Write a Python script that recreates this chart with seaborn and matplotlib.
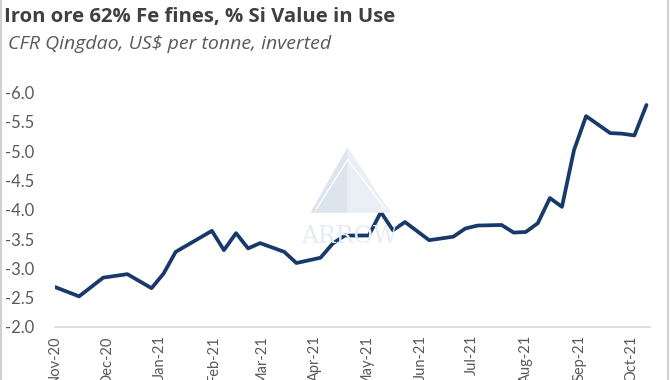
import numpy as np
import pandas as pd
import matplotlib.pyplot as plt
import matplotlib.dates as mdates
from matplotlib.patches import Polygon
from matplotlib.lines import Line2D
import seaborn as sns

# weekly readings
dates = ['2020-11-01', '2020-11-15', '2020-11-29', '2020-12-13', '2020-12-27',
         '2021-01-03', '2021-01-10', '2021-01-31', '2021-02-07', '2021-02-14',
         '2021-02-21', '2021-02-28', '2021-03-14', '2021-03-21', '2021-04-04',
         '2021-04-11', '2021-04-18', '2021-05-02', '2021-05-09', '2021-05-16',
         '2021-05-23', '2021-06-06', '2021-06-20', '2021-06-27', '2021-07-04',
         '2021-07-18', '2021-07-25', '2021-08-01', '2021-08-08', '2021-08-15',
         '2021-08-22', '2021-08-29', '2021-09-05', '2021-09-19', '2021-09-26',
         '2021-10-03', '2021-10-10']
values = [-2.68, -2.52, -2.84, -2.90, -2.66,
          -2.91, -3.28, -3.64, -3.31, -3.60,
          -3.34, -3.43, -3.28, -3.09, -3.18,
          -3.42, -3.56, -3.56, -3.96, -3.65,
          -3.79, -3.48, -3.54, -3.68, -3.73,
          -3.74, -3.61, -3.62, -3.77, -4.20,
          -4.05, -5.02, -5.60, -5.31, -5.30,
          -5.27, -5.79]

df = pd.DataFrame({'date': pd.to_datetime(dates), 'value': values})

sns.set_style('white')
plt.rcParams['font.family'] = ['Lato', 'DejaVu Sans']

fig = plt.figure(figsize=(6.7, 3.8), dpi=100)
ax = fig.add_axes([0.082, 0.140, 0.888, 0.616])

# faint watermark (sail + name) behind the line
left_sail = Polygon([(0.463, 0.44), (0.519, 0.613), (0.519, 0.44)], closed=True,
                    transform=fig.transFigure, facecolor='#dce4ee', edgecolor='none', zorder=0)
right_sail = Polygon([(0.519, 0.44), (0.519, 0.613), (0.583, 0.44)], closed=True,
                     transform=fig.transFigure, facecolor='#eaeef5', edgecolor='none', zorder=0)
fig.patches.extend([left_sail, right_sail])
fig.add_artist(Line2D([0.472, 0.519, 0.575], [0.45, 0.58, 0.45], color='white',
                      linewidth=1.0, zorder=0.5))
fig.text(0.522, 0.378, 'ARROW', ha='center', va='center', fontsize=17,
         family='DejaVu Serif', color='#e6ebf2', zorder=0)

sns.lineplot(data=df, x='date', y='value', ax=ax, color='#173a6a', linewidth=2.7)

ax.set_ylim(-2.0, -6.0)
ax.set_yticks(np.arange(-2.0, -6.01, -0.5))
ax.yaxis.set_major_formatter(plt.FormatStrFormatter('%.1f'))
ax.set_xlim(pd.Timestamp('2020-11-01'), pd.Timestamp('2021-10-12'))
ax.xaxis.set_major_locator(mdates.MonthLocator())
ax.xaxis.set_major_formatter(mdates.DateFormatter('%b-%y'))
ax.tick_params(axis='x', rotation=90, labelsize=10.5, colors='#595959', length=0, pad=6)
ax.tick_params(axis='y', labelsize=12, colors='#595959', length=0, pad=15)
ax.set_xlabel('')
ax.set_ylabel('')

for s in ['left', 'right', 'top']:
    ax.spines[s].set_visible(False)
ax.spines['bottom'].set_color('#d9d9d9')
ax.spines['bottom'].set_linewidth(1.2)
ax.patch.set_alpha(0)

fig.text(0.006, 0.955, 'Iron ore 62% Fe fines, % Si Value in Use', fontsize=14.6,
         fontweight='bold', color='#404040', family='Open Sans', va='center')
fig.text(0.012, 0.883, 'CFR Qingdao, US$ per tonne, inverted', fontsize=14,
         style='italic', color='#595959', family='Open Sans', va='center')

# thin grey frame edges left and right
fig.add_artist(Line2D([0.002, 0.002], [0, 1], color='#d0d0d0', linewidth=1.5))
fig.add_artist(Line2D([0.997, 0.997], [0, 1], color='#d0d0d0', linewidth=1.5))

fig.savefig('out.png', dpi=100)
